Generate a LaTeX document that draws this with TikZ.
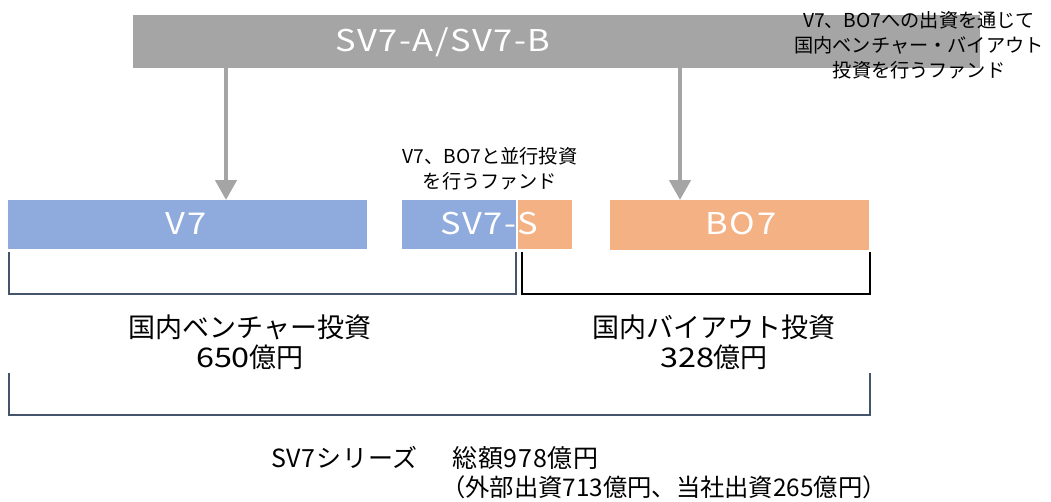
\documentclass[tikz,border=0pt]{standalone}
\usepackage{fontspec}
\setmainfont{Noto Sans CJK JP}
\newfontfamily\widefont[FakeStretch=1.15,LetterSpace=5]{Noto Sans CJK JP}
\newfontfamily\digfont[FakeStretch=1.2]{Noto Sans CJK JP}
\newfontfamily\midfont[LetterSpace=3]{Noto Sans CJK JP}
\usetikzlibrary{arrows.meta,calc}
\definecolor{topgray}{HTML}{A5A5A5}
\definecolor{vblue}{HTML}{8FAADC}
\definecolor{borange}{HTML}{F4B183}
\definecolor{slate}{HTML}{44546A}
\tikzset{
  x=1pt,y=-1pt,
  bar/.style={draw=none,inner sep=0pt,anchor=north west},
  barlabel/.style={text=white,font=\widefont\fontsize{30}{32}\selectfont,inner sep=0pt},
  arr/.style={draw=topgray,line width=4.5pt,-{Triangle[length=20pt,width=21pt]}},
  note/.style={align=center,font=\fontsize{19.2}{25}\selectfont,inner sep=0pt},
  biglabel/.style={align=center,font=\fontsize{27}{30}\selectfont,inner sep=0pt},
  bottomlabel/.style={font=\midfont\fontsize{25}{28}\selectfont,inner sep=0pt,anchor=west},
  detaillabel/.style={font=\fontsize{24.3}{28}\selectfont,inner sep=0pt,anchor=west},
  brk/.style={line width=2pt},
}
\begin{document}
\begin{tikzpicture}
\useasboundingbox (0,0) rectangle (1051,501);
% top box
\node[bar,fill=topgray,minimum width=847pt,minimum height=53pt] (top) at (133,15) {};
\node[barlabel] (toplbl) at (443,42) {SV7-A/SV7-B};
% lower bars
\node[bar,fill=vblue,minimum width=359pt,minimum height=49pt] (v7) at (8,200) {};
\node[barlabel] (v7lbl) at (186,223) {V7};
\node[bar,fill=vblue,minimum width=114pt,minimum height=49pt] (svsb) at (402,200) {};
\node[bar,fill=borange,minimum width=54pt,minimum height=49pt] (svso) at (518,200) {};
\node[barlabel] (svslbl) at (489,223) {SV7-S};
\node[bar,fill=borange,minimum width=259pt,minimum height=50pt] (bo7) at (610,200) {};
\node[barlabel] (bo7lbl) at (741,223) {BO7};
% arrows
\coordinate (a1) at (226,0);
\coordinate (a2) at (680,0);
\draw[arr] (top.south -| a1) -- (v7.north -| a1);
\draw[arr] (top.south -| a2) -- (bo7.north -| a2);
% notes
\node[note] (note1) at (919,45) {V7、BO7への出資を通じて\\国内ベンチャー・バイアウト\\投資を行うファンド};
\node[note] (note2) at (490,169) {V7、BO7と並行投資\\を行うファンド};
% brackets
\draw[brk,slate] (9,252) -- (9,294) -- (516,294) -- (516,252);
\draw[brk,black] (522,252) -- (522,294) -- (870,294) -- (870,252);
\draw[brk,slate] (9,373) -- (9,415) -- (870,415) -- (870,373);
% labels
\node[biglabel] (vent) at (250,342) {国内ベンチャー投資\\{\digfont 650}億円};
\node[biglabel] (buyout) at (714,342) {国内バイアウト投資\\{\digfont 328}億円};
\node[bottomlabel] (total) at (271,458) {SV7シリーズ　\hspace{9pt}総額978億円};
\node[detaillabel] (detail) at (441,487) {（外部出資713億円、当社出資265億円）};
\end{tikzpicture}
\end{document}
